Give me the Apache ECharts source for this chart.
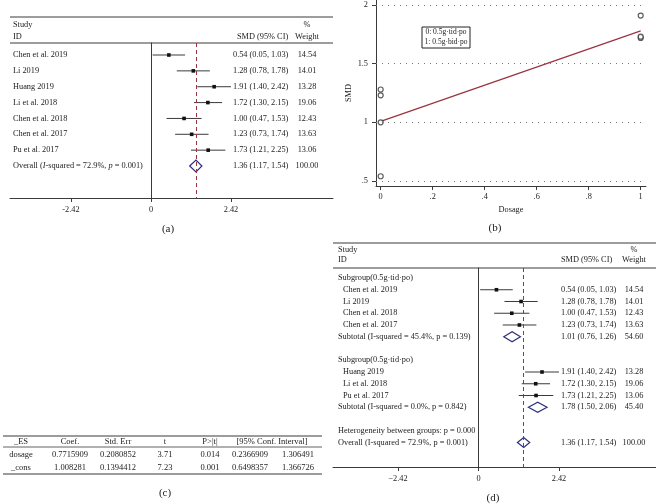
<!DOCTYPE html>
<html><head><meta charset="utf-8">
<script src="https://cdn.jsdelivr.net/npm/echarts@6/dist/echarts.min.js"></script>
<style>html,body{margin:0;padding:0;background:#fff}#c{width:656px;height:504px}</style>
</head><body><div id="c"></div>
<script>
// ---------- data ----------
const studyNames = ['Chen et al. 2019','Li 2019','Huang 2019','Li et al. 2018','Chen et al. 2018','Chen et al. 2017','Pu et al. 2017'];
const smd = [0.54,1.28,1.91,1.72,1.00,1.23,1.73];
const ciLow = [0.05,0.78,1.40,1.30,0.47,0.73,1.21];
const ciHigh = [1.03,1.78,2.42,2.15,1.53,1.74,2.25];
const weight = [14.54,14.01,13.28,19.06,12.43,13.63,13.06];
const dosage = [0,0,1,1,0,0,1];
const overallEst = [1.36,1.17,1.54,100.00];
const subgroupNames = ['Subgroup(0.5g·tid·po)','Subgroup(0.5g·tid·po)'];
const subtotalEst = [[1.01,0.76,1.26,54.60],[1.78,1.50,2.06,45.40]];
const subtotalText = ['Subtotal (I-squared = 45.4%, p = 0.139)','Subtotal (I-squared = 0.0%, p = 0.842)'];
const heterogeneityText = 'Heterogeneity between groups: p = 0.000';
const overallTextD = 'Overall (I-squared = 72.9%, p = 0.001)';
const forestTicks = [-2.42, 0, 2.42];
const dosageTicks = [0, 0.2, 0.4, 0.6, 0.8, 1];
const smdTicks = [0.5, 1, 1.5, 2];
const legendLines = ['0: 0.5g·tid·po','1: 0.5g·bid·po'];
const tableHeader = ['_ES','Coef.','Std. Err','t','P>|t|','[95% Conf. Interval]'];
const tableRowDosage = ['dosage','0.7715909','0.2080852','3.71','0.014','0.2366909','1.306491'];
const tableRowCons = ['_cons','1.008281','0.1394412','7.23','0.001','0.6498357','1.366726'];
const regCoef = 0.7715909, regCons = 1.008281;

// ---------- style ----------
const F = 'Liberation Serif';
const TXT = '#222';
const LINE = '#3a3a3a';
const RED = '#9a3340';
const NAVY = '#2c2f7c';
const FS = 8.3;
const fmt = v => v.toFixed(2);
const ciStr = e => fmt(e[0]) + ' (' + fmt(e[1]) + ', ' + fmt(e[2]) + ')';

// rows for (a)
const rowsA = studyNames.map((n,i)=>({row:i,label:n,est:[smd[i],ciLow[i],ciHigh[i],weight[i]],type:0}));
rowsA.push({row:7,label:'Overall',rich:true,est:overallEst,type:1});

// rows for (d)
const rowsD = []; let r = 0;
[0,1].forEach(g=>{
  rowsD.push({row:r++,label:subgroupNames[g],indent:false});
  dosage.forEach((d,i)=>{ if(d===g) rowsD.push({row:r++,label:studyNames[i],indent:true,est:[smd[i],ciLow[i],ciHigh[i],weight[i]],type:0}); });
  rowsD.push({row:r++,label:subtotalText[g],indent:false,est:subtotalEst[g],type:1});
  r++;
});
rowsD.push({row:r++,label:heterogeneityText,indent:false});
rowsD.push({row:r++,label:overallTextD,indent:false,est:overallEst,type:1});

function forestData(rows){ return rows.filter(o=>o.est).map(o=>[o.est[0],o.est[1],o.est[2],o.row,o.type]); }

function forestRender(hh){
  return function(params, api){
    const y = api.coord([0, api.value(3)])[1];
    const xs = api.coord([api.value(0),0])[0], xl = api.coord([api.value(1),0])[0], xh = api.coord([api.value(2),0])[0];
    if (api.value(4) === 1) {
      return {type:'polygon', shape:{points:[[xl,y],[xs,y-hh],[xh,y],[xs,y+hh]]},
        style:{fill:'none', stroke:NAVY, lineWidth:1.2}};
    }
    return {type:'group', children:[
      {type:'line', shape:{x1:xl,y1:y,x2:xh,y2:y}, style:{stroke:LINE,lineWidth:1}},
      {type:'rect', shape:{x:xs-1.8,y:y-1.8,width:3.6,height:3.6}, style:{fill:'#111'}}
    ]};
  };
}

function textRender(rows, xName, xIndent, xCI, xW, fs){
  return function(params, api){
    const o = rows[params.dataIndex];
    const y = api.coord([0, o.row])[1];
    const base = {fill:TXT, fontSize:fs, fontFamily:F, verticalAlign:'middle'};
    const ch = [];
    if (o.rich) {
      ch.push({type:'text', x:xName, y:y, style:Object.assign({}, base, {align:'left',
        text:'{n|Overall (}{i|I}{n|-squared = 72.9%, }{i|p}{n| = 0.001)}',
        rich:{n:{fontSize:fs,fontFamily:F,fill:TXT}, i:{fontSize:fs,fontFamily:F,fill:TXT,fontStyle:'italic'}}})});
    } else {
      ch.push({type:'text', x:o.indent?xIndent:xName, y:y, style:Object.assign({}, base, {align:'left', text:o.label})});
    }
    if (o.est) {
      ch.push({type:'text', x:xCI, y:y, style:Object.assign({}, base, {align:'left', text:ciStr(o.est)})});
      ch.push({type:'text', x:xW, y:y, style:Object.assign({}, base, {align:'center', text:fmt(o.est[3])})});
    }
    return {type:'group', children:ch};
  };
}

const axisFont = {fontFamily:F, fontSize:FS, color:TXT};
const chart = echarts.init(document.getElementById('c'), null, {renderer:'canvas'});

// graphics: rules, headers, table, panel letters
const G = [];
function hline(x1,x2,y,w){ G.push({type:'line', shape:{x1:x1,y1:y,x2:x2,y2:y}, style:{stroke:LINE,lineWidth:w||1}, silent:true}); }
function txt(x,y,t,align,fs){ G.push({type:'text', x:x, y:y, style:{text:t, fill:TXT, fontSize:fs||FS, fontFamily:F, align:align||'left', verticalAlign:'middle'}, silent:true}); }
// (a)
hline(10,333,17); hline(10,333,43);
txt(13,25,'Study'); txt(13,37,'ID'); txt(237,37,'SMD (95% CI)'); txt(307,25,'%','center'); txt(307,37,'Weight','center');
txt(168,229,'(a)','center',11);
// (d)
hline(333,656,243); hline(333,656,268);
txt(338,250,'Study'); txt(338,260,'ID'); txt(561,260,'SMD (95% CI)'); txt(634,250,'%','center'); txt(634,260,'Weight','center');
txt(493,498,'(d)','center',11);
// (b)
txt(495,228,'(b)','center',11);
G.push({type:'rect', shape:{x:422,y:27,width:48,height:21}, style:{fill:'#fff',stroke:'#222',lineWidth:1}, silent:true, z:10});
G.push({type:'text', x:446, y:32.5, z:11, style:{text:legendLines[0],fill:TXT,fontSize:7.5,fontFamily:F,align:'center',verticalAlign:'middle'}});
G.push({type:'text', x:446, y:42.5, z:11, style:{text:legendLines[1],fill:TXT,fontSize:7.5,fontFamily:F,align:'center',verticalAlign:'middle'}});
// (c) table
hline(3,322,436,1.2); hline(3,322,447,0.8); hline(3,322,474,1.2);
const hdrX = [21,70,118,165,210,272];
const valX = [21,70,118,165,210,250,298];
tableHeader.forEach((h,i)=>txt(hdrX[i],441.5,h,'center',8.5));
tableRowDosage.forEach((v,i)=>txt(valX[i],455,v,'center',8.5));
tableRowCons.forEach((v,i)=>txt(valX[i],468,v,'center',8.5));
txt(165,493,'(c)','center',11);

const forestX = (min,max,minus)=>({
  type:'value', min:min, max:max, splitLine:{show:false},
  axisLine:{show:true, onZero:false, lineStyle:{color:LINE,width:1}},
  axisTick:{show:true, customValues:forestTicks, length:4, lineStyle:{color:LINE}},
  axisLabel:Object.assign({customValues:forestTicks, margin:8, formatter:v=> v===0?'0':(v<0?minus:'')+Math.abs(v).toFixed(2)}, axisFont)
});
const forestY = (min,max)=>({
  type:'value', inverse:true, min:min, max:max, splitLine:{show:false},
  axisLine:{show:true, onZero:true, lineStyle:{color:LINE,width:1}},
  axisTick:{show:false}, axisLabel:{show:false}
});
const redLine = {silent:true, symbol:'none', label:{show:false}, lineStyle:{color:RED,type:[4,3],width:1}, data:[{xAxis:overallEst[0]}]};

chart.setOption({
  animation:false,
  backgroundColor:'#fff',
  grid:[
    {left:10, top:43, width:323, height:155},
    {left:376, top:0, width:270, height:186},
    {left:333, top:268, width:323, height:199}
  ],
  xAxis:[
    forestX(-4.265, 5.505, '-'),
    {type:'value', gridIndex:1, min:-0.018, max:1.0204, splitLine:{show:false},
     axisLine:{show:true,onZero:false,lineStyle:{color:LINE}},
     axisTick:{show:true, customValues:dosageTicks, length:4, lineStyle:{color:LINE}},
     axisLabel:Object.assign({customValues:dosageTicks, margin:7, formatter:v=> (v===0||v===1)?String(v):String(v).replace(/^0/,'')}, axisFont),
     name:'Dosage', nameLocation:'middle', nameGap:20, nameTextStyle:{fontFamily:F,fontSize:FS,color:TXT}},
    Object.assign(forestX(-4.375, 5.337, '\u2212'), {gridIndex:2})
  ],
  yAxis:[
    forestY(-0.757, 9.017),
    {type:'value', gridIndex:1, min:0.457, max:2.043, splitLine:{show:false},
     axisLine:{show:true,onZero:false,lineStyle:{color:LINE}},
     axisTick:{show:true, customValues:smdTicks, length:4, lineStyle:{color:LINE}},
     axisLabel:Object.assign({customValues:smdTicks, margin:8, formatter:v=> v<1?String(v).replace(/^0/,''):String(v)}, axisFont),
     name:'SMD', nameLocation:'middle', nameGap:23, nameRotate:90, nameTextStyle:{fontFamily:F,fontSize:FS,color:TXT}},
    Object.assign(forestY(-0.851, 16.085), {gridIndex:2})
  ],
  graphic:G,
  series:[
    {type:'custom', xAxisIndex:0, yAxisIndex:0, renderItem:forestRender(6), data:forestData(rowsA), encode:{x:[0,1,2], y:3}, markLine:redLine, z:3},
    {type:'custom', xAxisIndex:0, yAxisIndex:0, renderItem:textRender(rowsA,13,13,233,307,FS), data:rowsA.map(o=>[0,o.row]), encode:{x:0,y:1}, clip:false},
    {type:'custom', xAxisIndex:2, yAxisIndex:2, renderItem:forestRender(5), data:forestData(rowsD), encode:{x:[0,1,2], y:3}, markLine:redLine, z:3},
    {type:'custom', xAxisIndex:2, yAxisIndex:2, renderItem:textRender(rowsD,338,343,561,634,FS), data:rowsD.map(o=>[0,o.row]), encode:{x:0,y:1}, clip:false},
    {type:'line', xAxisIndex:1, yAxisIndex:1, data:[[0,regCons],[1,regCons+regCoef]], symbol:'none', lineStyle:{color:RED,width:1.2}, z:2,
     markLine:{silent:true, symbol:'none', label:{show:false}, lineStyle:{color:'#777',type:[1,5],width:1}, data:smdTicks.map(v=>({yAxis:v}))}},
    {type:'scatter', xAxisIndex:1, yAxisIndex:1, data:smd.map((v,i)=>[dosage[i],v]), symbol:'circle', symbolSize:5,
     itemStyle:{color:'#fff', borderColor:'#333', borderWidth:1.2}, z:4}
  ]
});
</script></body></html>
